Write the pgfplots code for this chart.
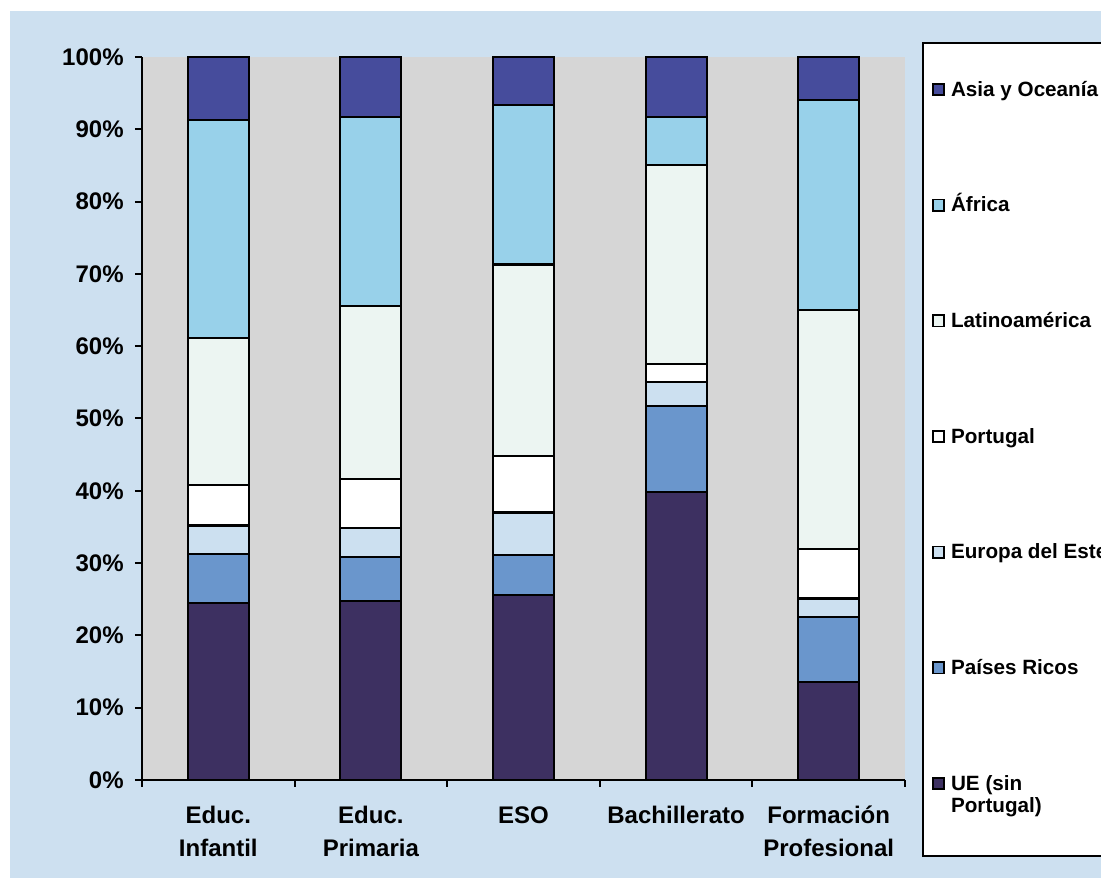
\documentclass[border=0pt]{standalone}
\usepackage{fontspec}
\setmainfont{Liberation Sans}
\usepackage{pgfplots}
\pgfplotsset{compat=1.18}

\definecolor{bgblue}{HTML}{CDE0F0}
\definecolor{plotgray}{HTML}{D6D6D6}
\definecolor{cUE}{HTML}{3D3061}
\definecolor{cRicos}{HTML}{6A96CC}
\definecolor{cEste}{HTML}{CCE0F0}
\definecolor{cPort}{HTML}{FFFFFF}
\definecolor{cLatam}{HTML}{ECF5F2}
\definecolor{cAfrica}{HTML}{98D1EA}
\definecolor{cAsia}{HTML}{464C9C}

\pgfplotsset{
  sq legend/.style={legend image code/.code={%
    \draw[##1,draw=black,line width=1.2pt] (0.6pt,0.6pt) rectangle (9.2pt,9.2pt);}},
  seg/.style={fill=#1, draw=black, line width=1.6pt, sq legend},
}

\begin{document}
\begin{tikzpicture}
\path[use as bounding box] (0,0) rectangle (825.75pt,658.5pt);
\fill[white] (0,0) rectangle (825.75pt,658.5pt);
\fill[bgblue] (7.5pt,0) rectangle (825.75pt,650.25pt);
\begin{axis}[
  at={(106.5pt,73.5pt)}, anchor=south west,
  scale only axis, width=572.25pt, height=542.25pt,
  ybar stacked, bar width=0.4,
  xmin=-0.5, xmax=4.5, ymin=0, ymax=100,
  axis background/.style={fill=plotgray},
  axis x line*=bottom, axis y line*=left,
  axis line style={black, line width=1.5pt},
  tick style={black, line width=1.5pt},
  tick align=outside, major tick length=5.25pt,
  xtick={-0.5,0.5,...,4.5},
  x tick label as interval,
  xticklabels={{Educ.\\Infantil},{Educ.\\Primaria},ESO,Bachillerato,{Formación\\Profesional}},
  xticklabel style={align=center, font=\fontsize{18}{24.5}\selectfont\bfseries, yshift=-11pt},
  ytick={0,10,...,100},
  /pgf/number format/assume math mode=true,
  yticklabel={\pgfmathprintnumber{\tick}\%},
  yticklabel style={font=\fontsize{18}{21}\selectfont\bfseries, xshift=-5pt},
  reverse legend,
  legend style={at={(1.0223,1.0207)}, anchor=north west, draw=black, line width=1.5pt,
    fill=white, inner xsep=6.75pt, inner ysep=27.75pt, row sep=71.25pt, column sep=0pt,
    cells={anchor=base west},
    nodes={font=\fontsize{15.5}{16.5}\selectfont\bfseries, text height=12pt,
      text depth=3.5pt, inner ysep=0pt, inner xsep=4.5pt}},
]
% stacked shares by region of origin, bottom to top
\addplot[seg=cUE] coordinates {(0,24.5) (1,24.7) (2,25.6) (3,39.8) (4,13.5)};
\addlegendentry[text depth=21.75pt]{\rlap{\raisebox{-16.5pt}{Portugal)}}UE (sin}
\addplot[seg=cRicos] coordinates {(0,6.8) (1,6.2) (2,5.5) (3,11.9) (4,9.0)};
\addlegendentry{Países Ricos}
\addplot[seg=cEste] coordinates {(0,3.9) (1,3.9) (2,5.9) (3,3.3) (4,2.6)};
\addlegendentry{Europa del Este}
\addplot[seg=cPort] coordinates {(0,5.6) (1,6.8) (2,7.8) (3,2.5) (4,6.9)};
\addlegendentry{Portugal}
\addplot[seg=cLatam] coordinates {(0,20.3) (1,23.9) (2,26.5) (3,27.6) (4,33.0)};
\addlegendentry{Latinoamérica}
\addplot[seg=cAfrica] coordinates {(0,30.2) (1,26.2) (2,22.0) (3,6.6) (4,29.1)};
\addlegendentry{África}
\addplot[seg=cAsia] coordinates {(0,8.7) (1,8.3) (2,6.7) (3,8.3) (4,5.9)};
\addlegendentry{Asia y Oceanía}
\end{axis}
\end{tikzpicture}
\end{document}
